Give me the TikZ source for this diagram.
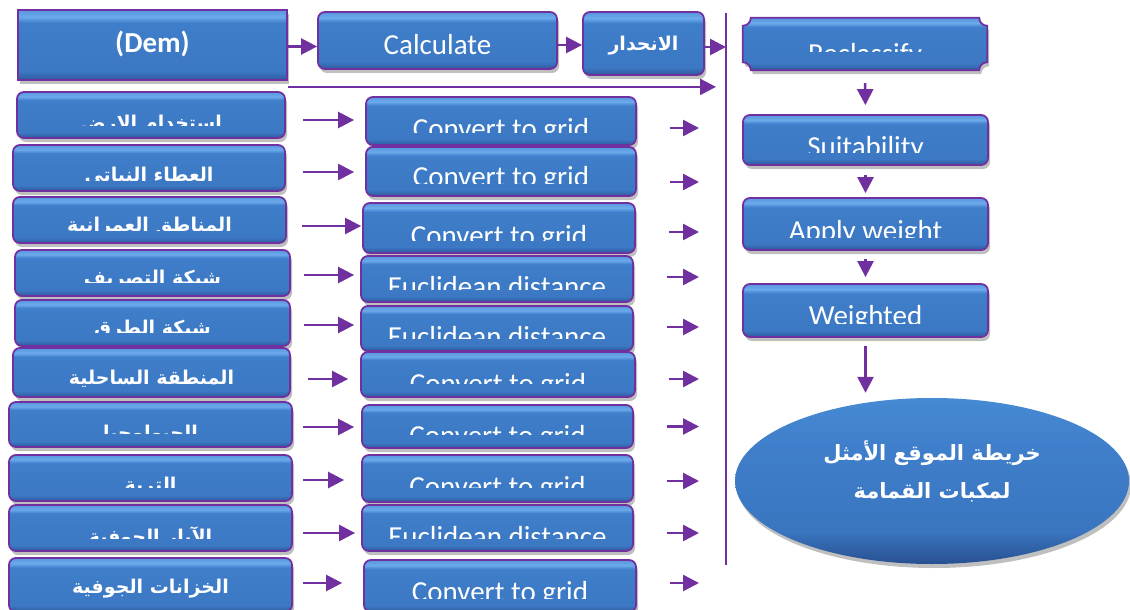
\documentclass[tikz,border=0pt]{standalone}
\usepackage{fontspec}
\setmainfont{Carlito}
\newfontfamily\arfont[Script=Arabic]{DejaVu Sans}
\TeXXeTstate=1
\usetikzlibrary{arrows.meta,shapes.geometric,shadows}
\definecolor{purp}{RGB}{112,48,160}
\definecolor{bdark}{RGB}{46,88,155}
\definecolor{bmid}{RGB}{60,120,195}
\definecolor{bmidb}{RGB}{63,126,202}
\definecolor{blight}{RGB}{108,170,236}
\definecolor{blightb}{RGB}{88,150,222}
\definecolor{edark}{RGB}{40,80,145}
\definecolor{emid}{RGB}{58,118,192}
\definecolor{etop}{RGB}{70,138,212}
\pgfdeclareverticalshading{boxshade}{100bp}{color(0bp)=(bdark); color(25bp)=(bdark); color(31bp)=(bmid); color(66bp)=(bmidb); color(70bp)=(blight); color(75bp)=(blightb); color(100bp)=(blightb)}
\pgfdeclareverticalshading{ellshade}{100bp}{color(0bp)=(edark); color(25bp)=(edark); color(35bp)=(emid); color(60bp)=(bmidb); color(75bp)=(etop); color(100bp)=(etop)}
\begin{document}
\begin{tikzpicture}[x=1pt,y=1pt,
  shad/.style={drop shadow={shadow xshift=2pt,shadow yshift=-4pt,opacity=.25,fill=black}},
  box/.style={rounded corners=7pt, draw=purp, line width=1.8pt, shading=boxshade, shad, inner sep=0pt},
  lat/.style={text=white, font=\fontsize{29}{30}\selectfont},
  latb/.style={text=white, font=\bfseries\fontsize{29}{30}\selectfont},
  arb/.style={text=white, font=\arfont\bfseries\fontsize{19}{24}\selectfont},
  ellt/.style={text=white, align=center, font=\arfont\bfseries\fontsize{21}{38}\selectfont},
  ctext/.style n args={4}{path picture={%
     \clip[sharp corners] ([yshift=80pt]path picture bounding box.north west) rectangle ([yshift=-#4]path picture bounding box.east);
     \node[#1, anchor=base, inner sep=0pt] at ([yshift=-#3]path picture bounding box.center) {#2};}},
  arr/.style={draw=purp, line width=2.5pt, -{Triangle[length=16pt,width=16pt]}},
  vln/.style={draw=purp, line width=2pt}
]
\fill[white] (0,0) rectangle (1130,-610);
\useasboundingbox (0,0) rectangle (1130,-610);

\coordinate (vtop) at (726,-13);
\coordinate (vbot) at (726,-565);

% top row
\node[box, sharp corners, minimum width=269pt, minimum height=70pt, ctext={latb}{(Dem)}{8}{40}] (dem) at (152.5,-45) {};
\node[box, minimum width=239pt, minimum height=57pt, ctext={lat}{Calculate}{14.5}{40}] (calc) at (437.5,-40.5) {};
\node[box, minimum width=121pt, minimum height=63pt, ctext={arb}{\beginR الانحدار\endR}{7}{40}] (inh) at (643.5,-43.5) {};

% left column
\node[box, minimum width=268pt, minimum height=46pt, ctext={arb}{\beginR استخدام الارض\endR}{14}{10}] (L1) at (151,-115) {};
\node[box, minimum width=272pt, minimum height=46pt, ctext={arb}{\beginR العطاء النباتي\endR}{13}{12}] (L2) at (149,-168) {};
\node[box, minimum width=273pt, minimum height=46pt, ctext={arb}{\beginR المناطق العمرانية\endR}{11}{10}] (L3) at (149.5,-220) {};
\node[box, minimum width=275pt, minimum height=46pt, ctext={arb}{\beginR شبكة التصريف\endR}{11}{9}] (L4) at (152.5,-273) {};
\node[box, minimum width=275pt, minimum height=46pt, ctext={arb}{\beginR شبكة الطرق\endR}{11}{9}] (L5) at (152.5,-323) {};
\node[box, minimum width=277pt, minimum height=49pt, ctext={arb}{\beginR المنطقة الساحلية\endR}{11.5}{13.5}] (L6) at (151.5,-372.5) {};
\node[box, minimum width=283pt, minimum height=45pt, ctext={arb}{\beginR الجيولوجيا\endR}{14.5}{8.5}] (L7) at (150.5,-424.5) {};
\node[box, minimum width=283pt, minimum height=46pt, ctext={arb}{\beginR التربة\endR}{13}{9}] (L8) at (150.5,-478) {};
\node[box, minimum width=283pt, minimum height=46pt, ctext={arb}{\beginR الآبار الجوفية\endR}{15}{10}] (L9) at (150.5,-528) {};
\node[box, minimum width=283pt, minimum height=54pt, ctext={arb}{\beginR الخزانات الجوفية\endR}{8}{30}] (L10) at (150.5,-585) {};

% middle column
\node[box, minimum width=270pt, minimum height=48pt, ctext={lat}{Convert to grid}{17.5}{11}] (M1) at (501,-121) {};
\node[box, minimum width=270pt, minimum height=49pt, ctext={lat}{Convert to grid}{15}{11.5}] (M2) at (501,-171.5) {};
\node[box, minimum width=272pt, minimum height=50pt, ctext={lat}{Convert to grid}{17.5}{12}] (M3) at (499,-228) {};
\node[box, minimum width=272pt, minimum height=46pt, ctext={lat}{Euclidean distance}{17.5}{10}] (M4) at (497,-279) {};
\node[box, minimum width=272pt, minimum height=45pt, ctext={lat}{Euclidean distance}{18}{9.5}] (M5) at (497,-328.5) {};
\node[box, minimum width=274pt, minimum height=45pt, ctext={lat}{Convert to grid}{19}{8.5}] (M6) at (498,-374.5) {};
\node[box, minimum width=271pt, minimum height=43pt, ctext={lat}{Convert to grid}{19}{7.5}] (M7) at (497.5,-426.5) {};
\node[box, minimum width=271pt, minimum height=47pt, ctext={lat}{Convert to grid}{18}{8.5}] (M8) at (497.5,-478.5) {};
\node[box, minimum width=271pt, minimum height=46pt, ctext={lat}{Euclidean distance}{18.5}{10}] (M9) at (497.5,-528) {};
\node[box, minimum width=272pt, minimum height=52pt, ctext={lat}{Convert to grid}{15.5}{12}] (M10) at (500,-586) {};

% right column
\node[inner sep=0pt, minimum width=244pt, minimum height=52pt] (recl) at (865,-44) {};
\path[draw=purp, line width=1.8pt, shading=boxshade, shad, ctext={lat}{Reclassify}{19.5}{8}]
  ([xshift=8pt]recl.north west) -- ([xshift=-8pt]recl.north east)
  arc[start angle=180, end angle=270, radius=8pt] -- ([yshift=8pt]recl.south east)
  arc[start angle=90, end angle=180, radius=8pt] -- ([xshift=8pt]recl.south west)
  arc[start angle=0, end angle=90, radius=8pt] -- ([yshift=-8pt]recl.north west)
  arc[start angle=270, end angle=360, radius=8pt] -- cycle;
\node[box, minimum width=245pt, minimum height=50pt, ctext={lat}{Suitability}{16.5}{12}] (suit) at (865.5,-140) {};
\node[box, minimum width=245pt, minimum height=52pt, ctext={lat}{Apply weight}{16.5}{13}] (apply) at (865.5,-224) {};
\node[box, minimum width=245pt, minimum height=53pt, ctext={lat}{Weighted}{15}{12.5}] (wtd) at (865.5,-310.5) {};
\node[ellipse, shading=ellshade, shad, minimum width=394pt, minimum height=166pt, inner sep=0pt,
  path picture={\node[ellt] at ([yshift=10pt]path picture bounding box.center) {\beginR خريطة الموقع الأمثل\endR\\\beginR لمكبات القمامة\endR};}] (map) at (932,-481) {};

% vertical collector line
\draw[vln] (vtop) -- (vbot);

% top arrows
\draw[arr] ([yshift=-1.5pt]dem.east) -- ([yshift=-1.5pt]dem.east -| calc.west);
\draw[arr] ([yshift=-4.5pt]calc.east) -- ([yshift=-4.5pt]calc.east -| inh.west);
\draw[arr] ([yshift=-3.5pt]inh.east) -- ([yshift=-3.5pt]inh.east -| vtop);
\draw[arr, shorten >=10pt] ([yshift=-6pt]dem.south east) -- ([yshift=-6pt]dem.south east -| vtop);

% left to middle arrows
\foreach \i/\dy/\s/\e in {1/-5/17/11, 2/-4/17/11, 3/-6/15/1, 4/-2/13/6, 5/-2/13/6, 6/-6.5/17/12, 7/-2.5/10/7, 8/-2/10/17, 9/-5/10/6, 10/2/10/21}
  \draw[arr, shorten <=\s pt, shorten >=\e pt] ([yshift=\dy pt]L\i.east) -- ([yshift=\dy pt]L\i.east -| M\i.west);

% middle to collector arrows
\foreach \i/\dy in {1/-7, 2/-10.5, 3/-4, 4/2, 5/1.5, 6/-4.5, 7/0, 8/-2.5, 9/-5, 10/3}
  \draw[arr, shorten <=33pt, shorten >=27pt] ([yshift=\dy pt]M\i.east) -- ([yshift=\dy pt]M\i.east -| vtop);

% right column arrows
\draw[arr, shorten <=13pt, shorten >=9pt] (recl.south) -- (suit.north);
\draw[arr, shorten <=9pt, shorten >=4pt] (suit.south) -- (apply.north);
\draw[arr, shorten <=8pt, shorten >=6pt] (apply.south) -- (wtd.north);
\draw[arr, shorten <=8pt, shorten >=5pt] (wtd.south) -- (wtd.south |- map.north);
\end{tikzpicture}
\end{document}
